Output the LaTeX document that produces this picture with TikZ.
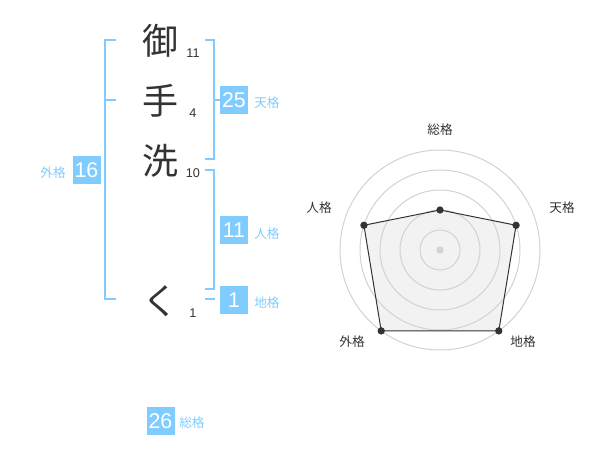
\documentclass[tikz,border=0pt]{standalone}
\usepackage{fontspec}
\setmainfont{Noto Sans CJK JP}
\newfontfamily\numfont{Liberation Sans}
\definecolor{kblue}{RGB}{128,204,255}
\definecolor{ink}{RGB}{51,51,51}
\definecolor{ring}{RGB}{210,210,210}
\definecolor{area}{RGB}{242,242,242}
\tikzset{
  kanji/.style={text=ink, inner sep=0pt, font=\fontsize{27}{27}\selectfont},
  strokes/.style={text=ink, inner sep=0pt, font=\numfont\fontsize{9.5}{9.5}\selectfont},
  valbox/.style={fill=kblue, text=white, inner sep=0pt, minimum width=21pt, minimum height=21pt, font=\numfont\fontsize{16}{16}\selectfont},
  kakulabel/.style={text=kblue, inner sep=0pt, font=\fontsize{9.5}{9.5}\selectfont},
  bracket/.style={draw=kblue, line width=1.5pt},
  radarlabel/.style={text=ink, inner sep=0pt, font=\fontsize{9.5}{9.5}\selectfont},
  vertex/.style={circle, fill=ink, inner sep=0pt, minimum size=5.5pt},
}
\begin{document}
\begin{tikzpicture}[x=0.75pt,y=-0.75pt]
\useasboundingbox (0,0) rectangle (600,470);
% name characters
\node[kanji] (c1) at (160,41) {御};
\node[kanji] (c2) at (160,101) {手};
\node[kanji] (c3) at (160,161) {洗};
\node[kanji] (c4) at (160,301) {く};
\node[strokes] (s1) at (193,53) {11};
\node[strokes] (s2) at (193,113) {4};
\node[strokes] (s3) at (193,173) {10};
\node[strokes] (s4) at (193,313) {1};
% brackets
\draw[bracket] (116,40) -- (105,40) -- (105,299) -- (116,299);
\draw[bracket] (105,100) -- (116,100);
\draw[bracket] (205,40) -- (214,40) -- (214,159) -- (205,159);
\draw[bracket] (214,100) -- (220,100);
\draw[bracket] (205,170) -- (214,170) -- (214,289) -- (205,289);
\draw[bracket] (205,299) -- (215,299);
% value boxes
\node[valbox] (ten) at (234,100) {25};
\node[kakulabel, anchor=west] (tenl) at (254,103) {天格};
\node[valbox] (jin) at (234,230.5) {11};
\node[kakulabel, anchor=west] (jinl) at (254,233.5) {人格};
\node[valbox] (chi) at (234,300) {1};
\node[kakulabel, anchor=west] (chil) at (254,303) {地格};
\node[valbox] (gai) at (86.5,170) {16};
\node[kakulabel, anchor=east] (gail) at (66,173) {外格};
\node[valbox] (sou) at (160.5,421) {26};
\node[kakulabel, anchor=west] (soul) at (179,423) {総格};
% radar chart
\coordinate (O) at (440,250);
\coordinate (pS) at ({440+40*cos(90)},{250-40*sin(90)});
\coordinate (pT) at ({440+80*cos(18)},{250-80*sin(18)});
\coordinate (pC) at ({440+100*cos(-54)},{250-100*sin(-54)});
\coordinate (pG) at ({440+100*cos(234)},{250-100*sin(234)});
\coordinate (pJ) at ({440+80*cos(162)},{250-80*sin(162)});
\fill[area] (pS) -- (pT) -- (pC) -- (pG) -- (pJ) -- cycle;
\foreach \r in {20,40,60,80,100} \draw[ring, line width=0.75pt] (O) circle[radius=\r];
\draw[ink, line width=0.75pt] (pS) -- (pT) -- (pC) -- (pG) -- (pJ) -- cycle;
\node[circle, fill=ring, inner sep=0pt, minimum size=5.5pt] (ctr) at (O) {};
\foreach \p in {pS,pT,pC,pG,pJ} \node[vertex] at (\p) {};
\node[radarlabel] (lS) at (440,130) {総格};
\node[radarlabel] (lT) at (562,208) {天格};
\node[radarlabel] (lJ) at (319,208) {人格};
\node[radarlabel] (lG) at (352,342) {外格};
\node[radarlabel] (lC) at (523,342) {地格};
\end{tikzpicture}
\end{document}
